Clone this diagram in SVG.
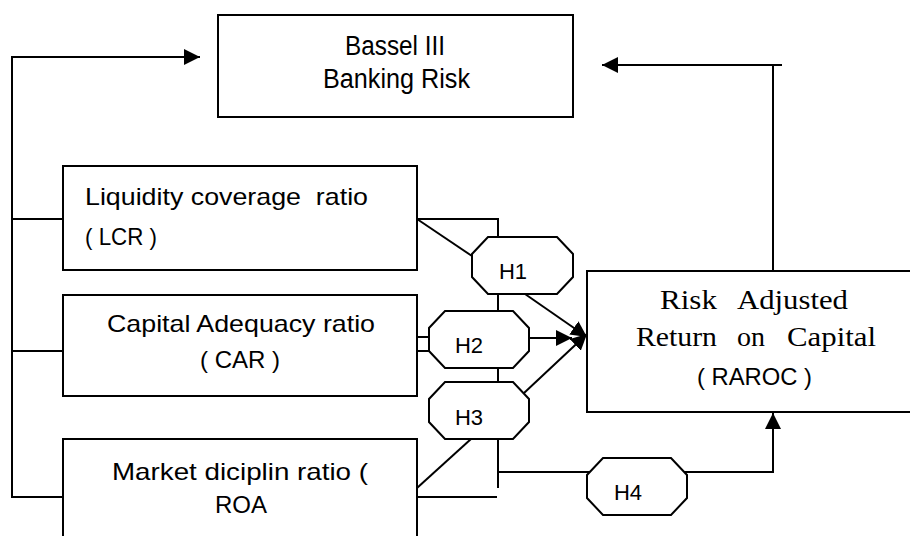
<svg xmlns="http://www.w3.org/2000/svg" width="910" height="536" viewBox="0 0 910 536">
<defs>
<marker id="arr" markerUnits="userSpaceOnUse" markerWidth="17" markerHeight="16" viewBox="0 0 17 16" refX="16" refY="8" orient="auto">
<path d="M0,0 L16,8 L0,16 Z" fill="#000"/>
</marker>
</defs>
<style>
.box{fill:#fff;stroke:#000;stroke-width:2}
.oct{fill:#fff;stroke:#000;stroke-width:2}
.ln{fill:none;stroke:#000;stroke-width:2}
.t{font-family:"Liberation Sans",Arial,sans-serif;font-size:24px;fill:#000}
.tb{font-family:"Liberation Sans",Arial,sans-serif;font-size:27px;fill:#000}
.tr{font-family:"Liberation Serif","Times New Roman",serif;font-size:28px;fill:#000}
.th{font-family:"Liberation Sans",Arial,sans-serif;font-size:22px;fill:#000;text-anchor:middle}
</style>
<rect width="910" height="536" fill="#fff"/>

<g id="connectors">
<polyline class="ln" points="63,497 12,497 12,57 200,57" marker-end="url(#arr)"/>
<line class="ln" x1="12" y1="219" x2="63" y2="219"/>
<line class="ln" x1="12" y1="351" x2="63" y2="351"/>
<line class="ln" x1="773" y1="271" x2="773" y2="65"/>
<line class="ln" x1="782" y1="65" x2="602" y2="65" marker-end="url(#arr)"/>
<polyline class="ln" points="417,219 498,219 498,237"/>
<line class="ln" x1="417" y1="219" x2="472" y2="256"/>
<line class="ln" x1="498" y1="294" x2="498" y2="311"/>
<line class="ln" x1="525" y1="294" x2="587" y2="337" marker-end="url(#arr)"/>
<line class="ln" x1="417" y1="337" x2="429" y2="337"/>
<line class="ln" x1="417" y1="351" x2="429" y2="351"/>
<line class="ln" x1="529" y1="338" x2="572" y2="338" marker-end="url(#arr)"/>
<line class="ln" x1="498" y1="368" x2="498" y2="382"/>
<line class="ln" x1="524" y1="393" x2="587" y2="334" marker-end="url(#arr)"/>
<line class="ln" x1="498" y1="439" x2="498" y2="488"/>
<line class="ln" x1="417" y1="488" x2="471" y2="439"/>
<line class="ln" x1="417" y1="497" x2="497" y2="497"/>
<line class="ln" x1="498" y1="472" x2="590" y2="472"/>
<polyline class="ln" points="684,472 773,472 773,413" marker-end="url(#arr)"/>
</g>

<g id="bassel">
<rect class="box" x="218" y="15" width="355" height="102"/>
<text class="tb" x="345" y="55" textLength="100" lengthAdjust="spacingAndGlyphs">Bassel III</text>
<text class="tb" x="323" y="88" textLength="147" lengthAdjust="spacingAndGlyphs">Banking Risk</text>
</g>

<g id="lcr">
<rect class="box" x="63" y="166" width="354" height="104"/>
<text class="t" x="85" y="205" xml:space="preserve" textLength="283" lengthAdjust="spacingAndGlyphs">Liquidity coverage  ratio</text>
<text class="t" x="85" y="245" textLength="72" lengthAdjust="spacingAndGlyphs">( LCR )</text>
</g>

<g id="car">
<rect class="box" x="63" y="295" width="354" height="101"/>
<text class="t" x="107" y="332" textLength="268" lengthAdjust="spacingAndGlyphs">Capital Adequacy ratio</text>
<text class="t" x="200" y="368" textLength="80" lengthAdjust="spacingAndGlyphs">( CAR )</text>
</g>

<g id="roa">
<rect class="box" x="63" y="439" width="354" height="110"/>
<text class="t" x="112" y="480" textLength="256" lengthAdjust="spacingAndGlyphs">Market diciplin ratio (</text>
<text class="t" x="215" y="513" textLength="52" lengthAdjust="spacingAndGlyphs">ROA</text>
</g>

<g id="raroc">
<rect class="box" x="587" y="271" width="330" height="141"/>
<text class="tr" x="660" y="309" textLength="57" lengthAdjust="spacingAndGlyphs">Risk</text>
<text class="tr" x="737" y="309" textLength="111" lengthAdjust="spacingAndGlyphs">Adjusted</text>
<text class="tr" x="636" y="346" textLength="81" lengthAdjust="spacingAndGlyphs">Return</text>
<text class="tr" x="737" y="346" textLength="28" lengthAdjust="spacingAndGlyphs">on</text>
<text class="tr" x="787" y="346" textLength="89" lengthAdjust="spacingAndGlyphs">Capital</text>
<text class="t" x="697" y="385" textLength="115" lengthAdjust="spacingAndGlyphs">( RAROC )</text>
</g>

<g id="h1">
<path class="oct" d="M488,237 H557 L573,254 V277 L557,294 H488 L472,277 V254 Z"/>
<text class="th" x="513" y="279">H1</text>
</g>
<g id="h2">
<path class="oct" d="M445,311 H513 L529,328 V351 L513,368 H445 L429,351 V328 Z"/>
<text class="th" x="469" y="353">H2</text>
</g>
<g id="h3">
<path class="oct" d="M445,382 H513 L529,399 V422 L513,439 H445 L429,422 V399 Z"/>
<text class="th" x="469" y="425">H3</text>
</g>
<g id="h4">
<path class="oct" d="M603,458 H671 L687,475 V498 L671,515 H603 L587,498 V475 Z"/>
<text class="th" x="628" y="500">H4</text>
</g>
</svg>
